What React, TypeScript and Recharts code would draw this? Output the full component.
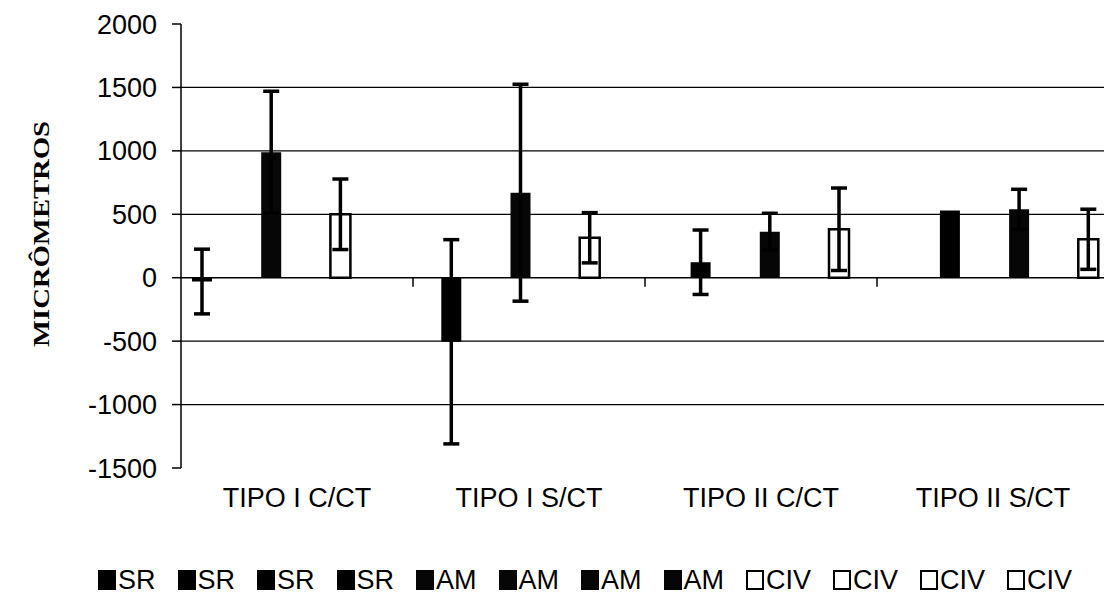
import React from 'react';
import { BarChart, Bar, XAxis, YAxis, CartesianGrid, ErrorBar, ReferenceLine, Legend } from 'recharts';

const categories = ['TIPO I C/CT', 'TIPO I S/CT', 'TIPO II C/CT', 'TIPO II S/CT'];
const srValues = [-30, -505, 122, 530];
const srErrors: (number | null)[] = [255, 805, 254, null];
const amValues = [990, 670, 363, 539];
const amErrors: (number | null)[] = [480, 855, 145, 158];
const civValues = [500, 315, 382, 303];
const civErrors: (number | null)[] = [278, 198, 325, 237];
const yTicks = [-1500, -1000, -500, 0, 500, 1000, 1500, 2000];
const gridValues = [-1000, -500, 500, 1000, 1500];

const groups = [
  { key: 'sr', name: 'SR', values: srValues, errors: srErrors, fill: '#000000', stroke: 'none' },
  { key: 'am', name: 'AM', values: amValues, errors: amErrors, fill: '#060606', stroke: 'none' },
  { key: 'civ', name: 'CIV', values: civValues, errors: civErrors, fill: '#ffffff', stroke: '#000000' },
];

const data = categories.map((category, j) => {
  const row: Record<string, any> = { category };
  groups.forEach((g) => {
    row[`${g.key}${j}`] = g.values[j];
    if (g.errors[j] != null) row[`${g.key}Err${j}`] = g.errors[j];
  });
  return row;
});

const series = groups.flatMap((g) =>
  categories.map((_, j) => ({
    dataKey: `${g.key}${j}`,
    errKey: `${g.key}Err${j}`,
    hasErr: g.errors[j] != null,
    name: g.name,
    fill: g.fill,
    stroke: g.stroke,
  }))
);

const SANS = '"Liberation Sans", Arial, sans-serif';
const SERIF = '"Liberation Serif", "Times New Roman", serif';

const ZeroLine = (props: any) => {
  const { x1, y1, x2 } = props;
  const n = categories.length;
  const ticks = [];
  for (let k = 1; k < n; k++) {
    const x = x1 + ((x2 - x1) * k) / n;
    ticks.push(<line key={k} x1={x} y1={y1} x2={x} y2={y1 + 9} stroke="#000" strokeWidth={1.5} />);
  }
  return (
    <g>
      <line x1={x1} y1={y1} x2={x2} y2={y1} stroke="#000" strokeWidth={1.5} />
      {ticks}
    </g>
  );
};

const YLabel = (props: any) => {
  const { viewBox } = props;
  const cx = viewBox.x + 49;
  const cy = viewBox.y + viewBox.height / 2 - 12;
  return (
    <text
      x={cx}
      y={cy}
      transform={`rotate(-90, ${cx}, ${cy})`}
      textAnchor="middle"
      fontFamily={SERIF}
      fontWeight="bold"
      fontSize={23}
      textLength={226}
      lengthAdjust="spacingAndGlyphs"
      fill="#000"
    >
      MICRÔMETROS
    </text>
  );
};

const XTick = (props: any) => {
  const { x, y, payload } = props;
  return (
    <text x={x} y={y} dy="0.71em" textAnchor="middle" fontFamily={SANS} fontSize={27} fill="#000">
      {payload.value}
    </text>
  );
};

const YTick = (props: any) => {
  const { x, y, payload } = props;
  return (
    <text x={x} y={y} dy="0.355em" textAnchor="end" fontFamily={SANS} fontSize={27} fill="#000">
      {payload.value}
    </text>
  );
};

const LegendContent = () => (
  <div style={{ display: 'flex', alignItems: 'center', height: 30, fontFamily: SANS, fontSize: 27, color: '#000', whiteSpace: 'nowrap' }}>
    {series.map((s, i) => {
      const isOpen = s.stroke !== 'none';
      return (
        <div key={i} style={{ display: 'flex', alignItems: 'center', marginRight: 22 }}>
          <span
            style={{
              display: 'inline-block',
              width: 18,
              height: 20,
              boxSizing: 'border-box',
              background: isOpen ? '#fff' : s.fill,
              border: isOpen ? '2.5px solid #000' : 'none',
              marginRight: 2,
            }}
          />
          <span>{s.name}</span>
        </div>
      );
    })}
  </div>
);

export default function App() {
  return (
    <div style={{ position: 'absolute', left: 0, top: 0, width: 1104, height: 597, overflow: 'hidden', background: '#fff' }}>
      <BarChart
        width={1120}
        height={597}
        data={data}
        margin={{ top: 24, right: 11, bottom: 2, left: 0 }}
        barSize={20}
        barGap={-2.7}
      >
        <CartesianGrid horizontal vertical={false} horizontalValues={gridValues} stroke="#000" strokeWidth={1.2} />
        <XAxis
          dataKey="category"
          axisLine={false}
          tickLine={false}
          tickSize={6}
          tickMargin={14}
          height={97}
          tick={<XTick />}
          interval={0}
        />
        <YAxis
          width={181}
          domain={[-1500, 2000]}
          ticks={yTicks}
          interval={0}
          allowDataOverflow
          axisLine={{ stroke: '#000', strokeWidth: 1.5 }}
          tickLine={{ stroke: '#000', strokeWidth: 1.5 }}
          tickSize={9}
          tickMargin={15}
          tick={<YTick />}
          label={<YLabel />}
        />
        <ReferenceLine y={0} shape={<ZeroLine />} ifOverflow="extendDomain" />
        {series.map((s) => (
          <Bar
            key={s.dataKey}
            dataKey={s.dataKey}
            name={s.name}
            fill={s.fill}
            stroke={s.stroke}
            strokeWidth={s.stroke === 'none' ? 0 : 2.5}
            isAnimationActive={false}
          >
            {s.hasErr && (
              <ErrorBar dataKey={s.errKey} width={8} strokeWidth={3.5} stroke="#000" direction="y" />
            )}
          </Bar>
        ))}
        <Legend
          verticalAlign="bottom"
          align="left"
          content={<LegendContent />}
          wrapperStyle={{ left: 98, width: 1000 }}
        />
      </BarChart>
    </div>
  );
}
